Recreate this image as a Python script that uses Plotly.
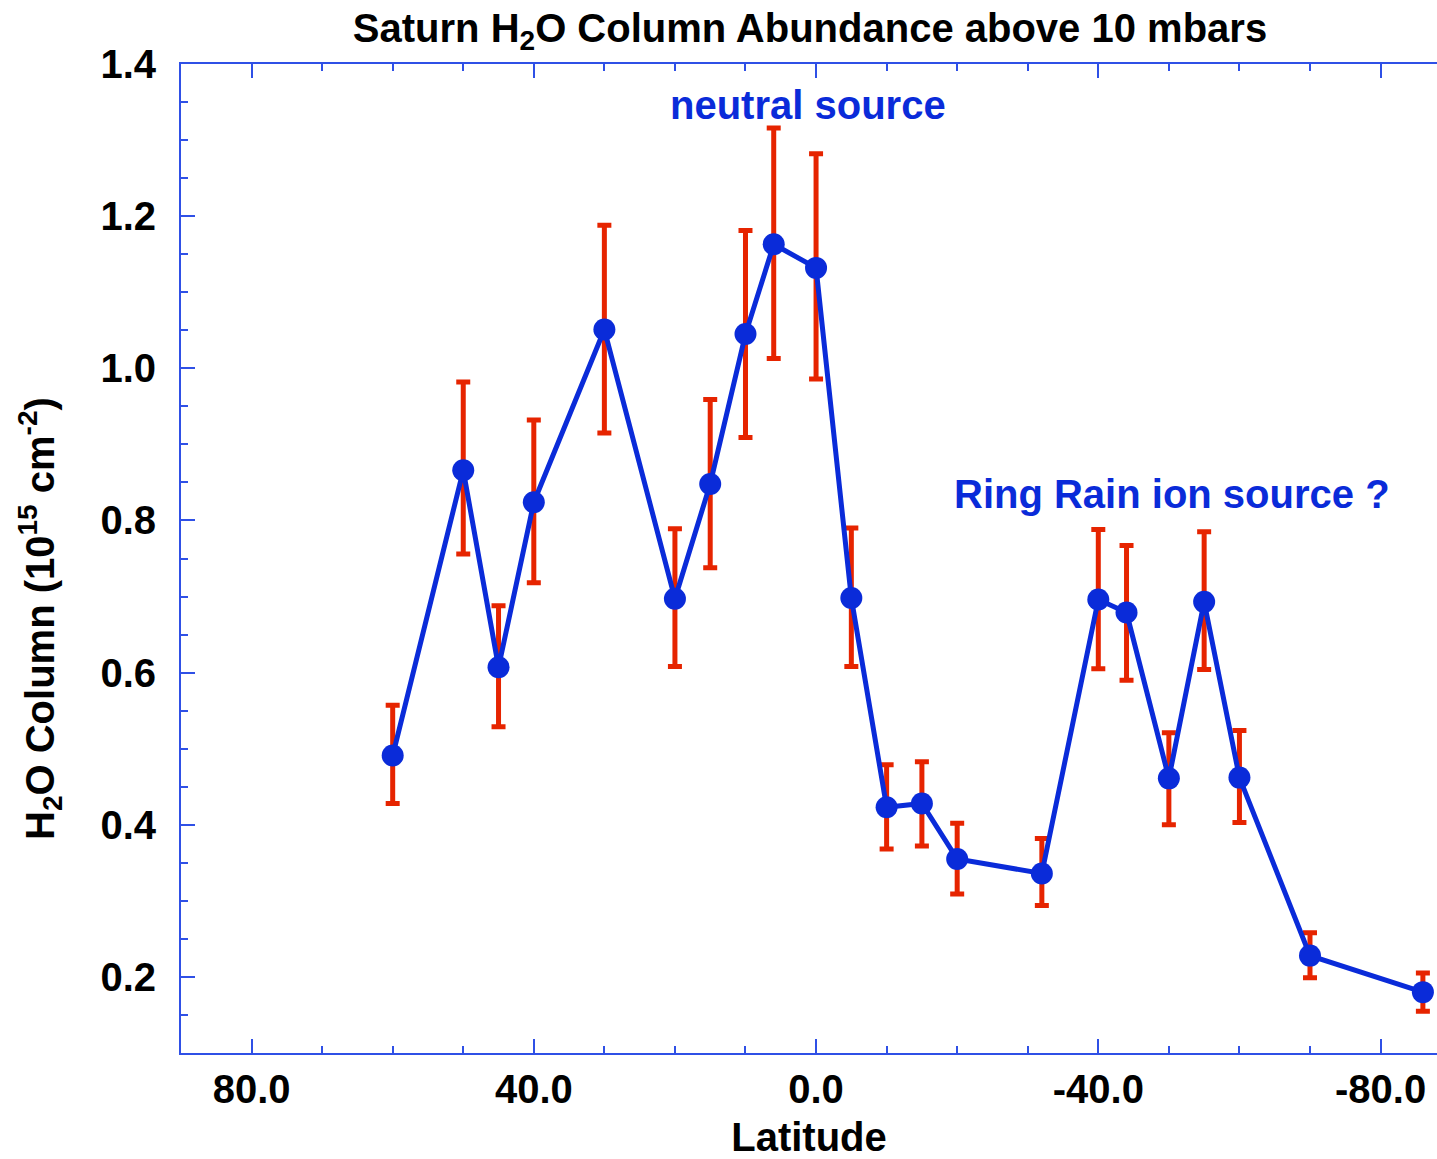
import plotly.graph_objects as go

latitude = [60, 50, 45, 40, 30, 20, 15, 10, 6, 0, -5, -10, -15, -20, -32, -40, -44, -50, -55, -60, -70, -86]
h2o_column = [0.491, 0.866, 0.607, 0.824, 1.051, 0.697, 0.848, 1.045, 1.163, 1.132, 0.698, 0.423,
              0.428, 0.355, 0.336, 0.696, 0.679, 0.461, 0.693, 0.462, 0.228, 0.180]
err_plus = [0.066, 0.116, 0.081, 0.108, 0.137, 0.092, 0.111, 0.136, 0.153, 0.150, 0.092, 0.056,
            0.055, 0.047, 0.046, 0.092, 0.088, 0.060, 0.092, 0.062, 0.030, 0.025]
err_minus = [0.063, 0.110, 0.078, 0.106, 0.136, 0.089, 0.110, 0.136, 0.150, 0.146, 0.090, 0.055,
             0.056, 0.046, 0.042, 0.091, 0.089, 0.061, 0.089, 0.059, 0.029, 0.025]

x_tick_values = [80, 40, 0, -40, -80]
x_tick_labels = ["80.0", "40.0", "0.0", "-40.0", "-80.0"]

BLUE = "#0a2bd9"
RED = "#e62400"
AXIS = "#2f50e6"
FONT = "Liberation Sans"
FS = 40

fig = go.Figure()
fig.add_trace(go.Scatter(
    x=latitude, y=h2o_column, mode="markers",
    marker=dict(size=1, color="rgba(0,0,0,0)"),
    error_y=dict(type="data", symmetric=False, array=err_plus, arrayminus=err_minus,
                 color=RED, thickness=5, width=7),
    showlegend=False, hoverinfo="skip",
))
fig.add_trace(go.Scatter(
    x=latitude, y=h2o_column, mode="lines+markers",
    line=dict(color=BLUE, width=5),
    marker=dict(size=22, color=BLUE),
    showlegend=False,
))

axis_common = dict(
    showline=True, linecolor=AXIS, linewidth=2, automargin=False,
    ticks="inside", tickcolor=AXIS, tickwidth=2, ticklen=14,
    showgrid=False, zeroline=False,
    tickfont=dict(family=FONT, size=FS, color="black", weight="bold"),
)

fig.update_layout(
    width=1437, height=1159,
    margin=dict(l=181, r=0, t=64, b=106),
    plot_bgcolor="white", paper_bgcolor="white",
    font=dict(family=FONT, color="black"),
    title=dict(text="<b>Saturn H<sub>2</sub>O Column Abundance above 10 mbars</b>",
               x=810 / 1437, xanchor="center", y=1 - 28 / 1159, yanchor="middle",
               font=dict(family=FONT, size=FS, color="black")),
    xaxis=dict(range=[90, -88], tickmode="array", tickvals=x_tick_values, ticktext=x_tick_labels,
               mirror="ticks",
               minor=dict(dtick=10, tick0=0, ticks="inside", ticklen=7, tickcolor=AXIS, tickwidth=2),
               ticklabelstandoff=0,
               title=dict(text="<b>Latitude</b>", standoff=28,
                          font=dict(family=FONT, size=FS, color="black")),
               **axis_common),
    yaxis=dict(range=[0.1, 1.4], dtick=0.2, tick0=0, tickformat=".1f", mirror=False,
               minor=dict(dtick=0.05, tick0=0, ticks="inside", ticklen=7, tickcolor=AXIS, tickwidth=2),
               ticklabelstandoff=15,
               **axis_common),
    annotations=[
        dict(text="<b>H<sub>2</sub>O Column (10<sup>15</sup> cm<sup>-2</sup>)</b>",
             x=(40 - 181) / 1256, y=1 - (619 - 64) / 989, xref="paper", yref="paper",
             textangle=-90, showarrow=False, xanchor="center", yanchor="middle",
             font=dict(family=FONT, size=FS, color="black")),
        dict(text="<b>neutral source</b>", x=1.1, y=1.346, xref="x", yref="y",
             showarrow=False, xanchor="center", yanchor="middle",
             font=dict(family=FONT, size=FS, color=BLUE)),
        dict(text="<b>Ring Rain ion source ?</b>", x=-50.4, y=0.835, xref="x", yref="y",
             showarrow=False, xanchor="center", yanchor="middle",
             font=dict(family=FONT, size=FS, color=BLUE)),
    ],
)

fig.write_html("out.html")
